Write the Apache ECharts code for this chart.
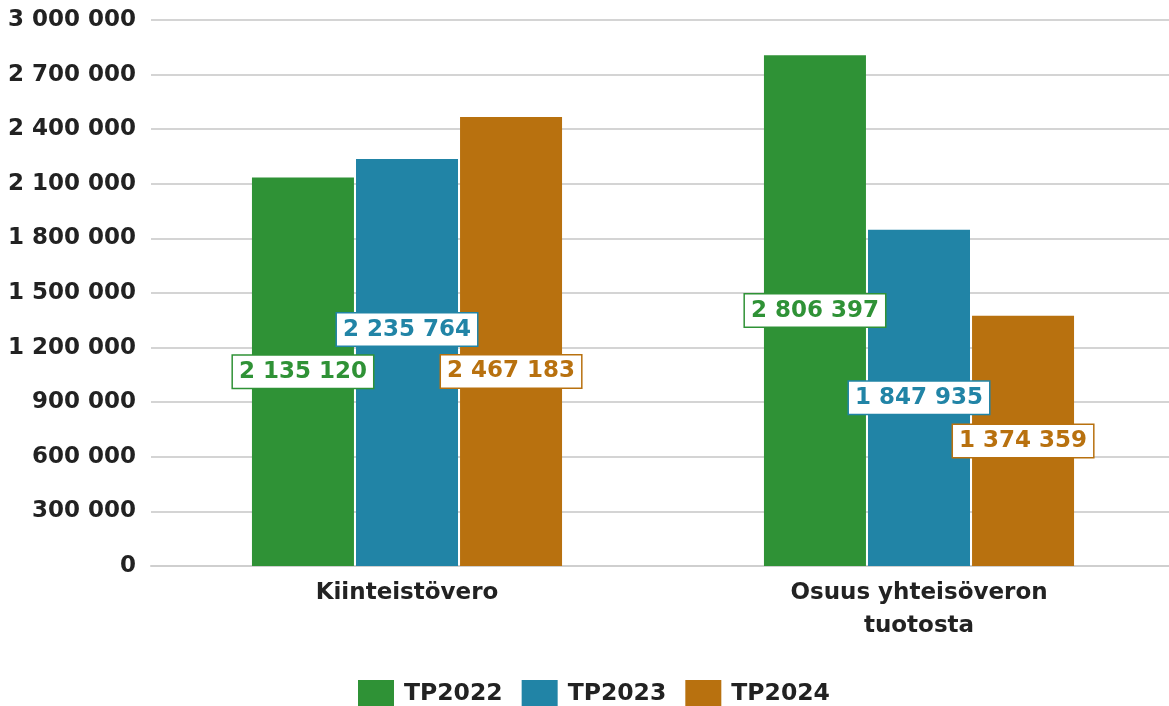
<!DOCTYPE html>
<html><head><meta charset="utf-8">
<script src="https://cdn.jsdelivr.net/npm/echarts@6/dist/echarts.min.js"></script>
<style>html,body{margin:0;padding:0;background:#fff;overflow:hidden}#c{width:1175px;height:706px}</style>
</head><body><div id="c"></div>
<script>
const categories = ['Kiinteistövero', 'Osuus yhteisöveron\ntuotosta'];
const seriesNames = ['TP2022', 'TP2023', 'TP2024'];
const tp2022 = [2135120, 2806397];
const tp2023 = [2235764, 1847935];
const tp2024 = [2467183, 1374359];
const colors = ['#2f9236', '#2184a6', '#b8710f'];
// label vertical nudges (style only) to avoid overlaps as in reference
const labelNudge = [[0, 0], [-33, 0], [30, 0]];
const FONT = 'DejaVu Sans, sans-serif';

function fmt(v){ return String(v).replace(/\B(?=(\d{3})+(?!\d))/g, ' '); }

const allData = [tp2022, tp2023, tp2024];
const series = allData.map((arr, si) => ({
  name: seriesNames[si],
  type: 'bar',
  barWidth: 102,
  barGap: '2%',
  itemStyle: { color: colors[si] },
  data: arr.map((v, ci) => ({
    value: v,
    label: { offset: [0, labelNudge[si][ci]] }
  })),
  label: {
    show: true,
    position: 'inside',
    formatter: p => fmt(p.value),
    color: colors[si],
    fontFamily: FONT,
    fontWeight: 'bold',
    fontSize: 23,
    backgroundColor: '#fff',
    borderColor: colors[si],
    borderWidth: 1.5,
    padding: [5, 6, 4, 6]
  }
}));

const chart = echarts.init(document.getElementById('c'));
chart.setOption({
  animation: false,
  textStyle: { fontFamily: FONT },
  legend: {
    bottom: -6,
    left: 353,
    itemWidth: 36,
    itemHeight: 27,
    itemGap: 19,
    icon: 'rect',
    textStyle: { fontSize: 23.5, fontWeight: 'bold', color: '#222', fontFamily: FONT, padding: [0, 0, 0, 5] },
    data: seriesNames
  },
  grid: { left: 151, top: 20, right: 0, bottom: 140, containLabel: false },
  xAxis: {
    type: 'category',
    data: categories,
    axisLine: { lineStyle: { color: '#cfcfcf', width: 2 } },
    axisTick: { show: false },
    axisLabel: { fontSize: 23, fontWeight: 'bold', color: '#222', fontFamily: FONT, margin: 11, lineHeight: 33, interval: 0 }
  },
  yAxis: {
    type: 'value',
    min: 0, max: 3000000, interval: 300000,
    axisLine: { show: false },
    axisTick: { show: false },
    splitLine: { lineStyle: { color: '#d4d4d4', width: 2 } },
    axisLabel: { fontSize: 23, fontWeight: 'bold', color: '#222', fontFamily: FONT, margin: 15, formatter: v => fmt(v) }
  },
  series: series
});
</script></body></html>
